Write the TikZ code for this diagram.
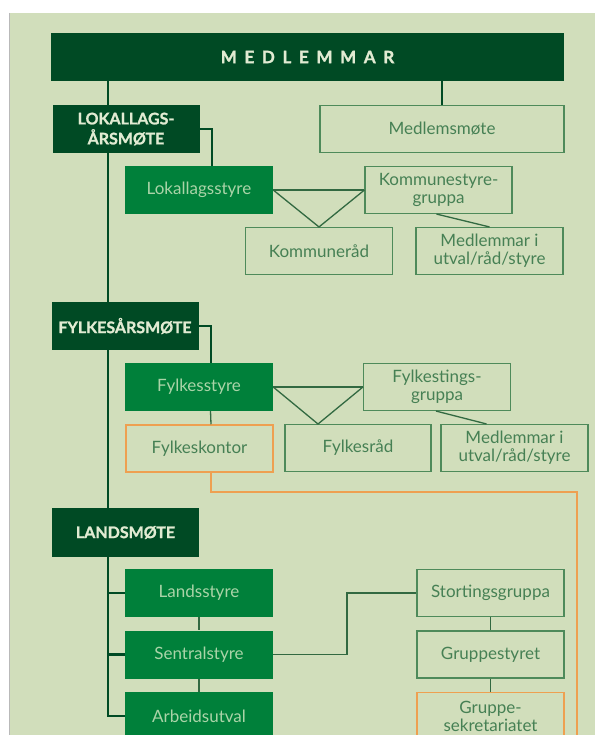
\documentclass[tikz,border=0pt]{standalone}
\usepackage{fontspec}
\setmainfont[BoldFeatures={FakeBold=1.2}]{Lato}
\newfontfamily\spacedfont[LetterSpace=45,BoldFeatures={FakeBold=1.5}]{Lato}
\definecolor{bg}{RGB}{209,222,187}
\definecolor{dark}{RGB}{0,74,36}
\definecolor{mid}{RGB}{0,128,58}
\definecolor{midtext}{RGB}{170,212,168}
\definecolor{pale}{RGB}{225,235,210}
\definecolor{outline}{RGB}{78,138,90}
\definecolor{outtext}{RGB}{70,128,84}
\definecolor{orangeline}{RGB}{238,160,80}
\definecolor{thinline}{RGB}{50,105,65}
\begin{document}
\begin{tikzpicture}[x=1pt,y=-1pt,
  darkbox/.style={fill=dark,text=pale,font=\bfseries\fontsize{16}{20}\selectfont,
    minimum width=147pt,minimum height=48pt,inner sep=0pt,align=center},
  midbox/.style={fill=mid,text=midtext,font=\fontsize{17}{18}\selectfont,
    minimum width=148pt,minimum height=48pt,inner sep=0pt,align=center},
  outbox/.style={draw=outline,line width=1.1pt,text=outtext,font=\fontsize{17}{18}\selectfont,
    minimum width=147pt,minimum height=47pt,inner sep=0pt,align=center},
  orbox/.style={outbox,draw=orangeline,line width=1.5pt},
  spine/.style={draw=dark,line width=2.6pt},
  link/.style={draw=dark,line width=2pt},
  thin/.style={draw=thinline,line width=1.3pt},
  orline/.style={draw=orangeline,line width=1.3pt}]
\useasboundingbox (0,0) rectangle (595,735);
\clip (0,0) rectangle (595,735);
\fill[bg] (9,13) rectangle (595,735);
\draw[gray!55,line width=0.6pt] (9,13) -- (9,735);

% top bar
\node[fill=dark,text=pale,minimum width=513pt,minimum height=48pt,inner sep=0pt,
  font=\spacedfont\bfseries\fontsize{17}{20}\selectfont] (top) at (307.5,57) {MEDLEMMAR};

% local level
\node[darkbox] (lok) at (126,129) {LOKALLAGS-\\ÅRSMØTE};
\node[outbox,minimum width=244pt] (medm) at (442,129) {Medlemsmøte};
\node[midbox] (lstyre) at (199,190) {Lokallagsstyre};
\node[outbox] (kgr) at (438.5,190) {Kommunestyre-\\gruppa};
\node[outbox] (krad) at (319,251) {Kommuneråd};
\node[outbox] (mutv1) at (489.5,251) {Medlemmar i\\utval/råd/styre};

% county level
\node[darkbox] (fyl) at (125,326) {FYLKESÅRSMØTE};
\node[midbox] (fstyre) at (199,387) {Fylkesstyre};
\node[outbox] (fgr) at (437,387) {Fylkestings-\\gruppa};
\node[orbox] (fkont) at (199.5,448.5) {Fylkeskontor};
\node[outbox,minimum width=146pt] (frad) at (358,448) {Fylkesråd};
\node[outbox] (mutv2) at (514.5,448) {Medlemmar i\\utval/råd/styre};

% national level
\node[darkbox,minimum height=49pt] (lands) at (125.5,532.5) {LANDSMØTE};
\node[midbox] (lstyre2) at (199,593) {Landsstyre};
\node[midbox] (sstyre) at (199,654.5) {Sentralstyre};
\node[midbox] (arb) at (199,716) {Arbeidsutval};
\node[outbox] (sting) at (490.5,593) {Stortingsgruppa};
\node[outbox] (gstyre) at (490.5,654.5) {Gruppestyret};
\node[orbox] (gsek) at (490.5,716) {Gruppe-\\sekretariatet};

% coordinates
\coordinate (sx) at (108,0);
\coordinate (fapex) at (318,424);
\coordinate (oturn) at (577,492);
\coordinate (oend) at (577,740);
\coordinate (sjog) at (347,0);

% connectors
\draw[link] (top.south -| sx) -- (lok.north -| sx);
\draw[link] (top.south -| medm.north) -- (medm.north);
\draw[spine] (lok.south -| sx) -- (fyl.north -| sx);
\draw[spine] (fyl.south -| sx) -- (lands.north -| sx);
\draw[spine] (lands.south -| sx) -- (arb.west -| sx) -- (arb.west);
\draw[spine] (lstyre2.west -| sx) -- (lstyre2.west);
\draw[spine] (sstyre.west -| sx) -- (sstyre.west);

\draw[link] (lok.east) -| ([xshift=13pt]lstyre.north);
\draw[link] (fyl.east) -| ([xshift=12pt]fstyre.north);

\draw[thin] (lstyre.east) -- (kgr.west);
\draw[thin] (lstyre.east) -- (krad.north) -- (kgr.west);
\draw[thin] ([xshift=-2pt]kgr.south) -- (mutv1.north);

\draw[thin] (fstyre.east) -- (fgr.west);
\draw[thin] (fstyre.east) -- (fapex) -- (fgr.west);
\draw[thin] ([xshift=-1pt]fgr.south) -- ([xshift=-28pt]mutv2.north);
\draw[thin] ([xshift=11.5pt]fstyre.south) -- ([xshift=11.5pt]fkont.north);
\draw[orline] ([xshift=11.5pt]fkont.south) |- (oturn) -- (oend);

\draw[thin] (lstyre2.south) -- (sstyre.north);
\draw[thin] (sstyre.south) -- (arb.north);
\draw[thin] (sstyre.east) -- (sstyre.east -| sjog) -- (sting.west -| sjog) -- (sting.west);
\draw[thin] (sting.south) -- (gstyre.north);
\draw[thin] (gstyre.south) -- (gsek.north);
\end{tikzpicture}
\end{document}
